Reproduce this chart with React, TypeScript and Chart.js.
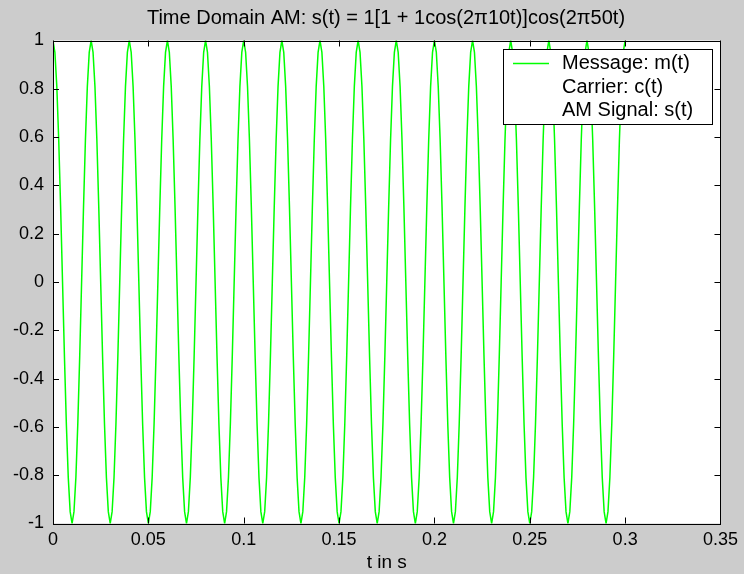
import { useEffect, useRef } from 'react';
import { Chart, registerables } from 'chart.js';

Chart.register(...registerables);

const titleText = 'Time Domain AM: s(t) = 1[1 + 1cos(2\u03c010t)]cos(2\u03c050t)';
const xAxisLabel = 't in s';
const legendLabels = ['Message: m(t)', 'Carrier: c(t)', 'AM Signal: s(t)'];
const xTicks = [0, 0.05, 0.1, 0.15, 0.2, 0.25, 0.3, 0.35];
const yTicks = [-1, -0.8, -0.6, -0.4, -0.2, 0, 0.2, 0.4, 0.6, 0.8, 1];
const sampleStart = 0;
const sampleStep = 0.001;
// samples of the plotted signal (one row per 0.02 s)
const signalValues = [
  1, 0.951, 0.809, 0.588, 0.309, 0, -0.309, -0.588, -0.809, -0.951, -1, -0.951, -0.809, -0.588, -0.309, 0, 0.309, 0.588, 0.809, 0.951,
  1, 0.951, 0.809, 0.588, 0.309, 0, -0.309, -0.588, -0.809, -0.951, -1, -0.951, -0.809, -0.588, -0.309, 0, 0.309, 0.588, 0.809, 0.951,
  1, 0.951, 0.809, 0.588, 0.309, 0, -0.309, -0.588, -0.809, -0.951, -1, -0.951, -0.809, -0.588, -0.309, 0, 0.309, 0.588, 0.809, 0.951,
  1, 0.951, 0.809, 0.588, 0.309, 0, -0.309, -0.588, -0.809, -0.951, -1, -0.951, -0.809, -0.588, -0.309, 0, 0.309, 0.588, 0.809, 0.951,
  1, 0.951, 0.809, 0.588, 0.309, 0, -0.309, -0.588, -0.809, -0.951, -1, -0.951, -0.809, -0.588, -0.309, 0, 0.309, 0.588, 0.809, 0.951,
  1, 0.951, 0.809, 0.588, 0.309, 0, -0.309, -0.588, -0.809, -0.951, -1, -0.951, -0.809, -0.588, -0.309, 0, 0.309, 0.588, 0.809, 0.951,
  1, 0.951, 0.809, 0.588, 0.309, 0, -0.309, -0.588, -0.809, -0.951, -1, -0.951, -0.809, -0.588, -0.309, 0, 0.309, 0.588, 0.809, 0.951,
  1, 0.951, 0.809, 0.588, 0.309, 0, -0.309, -0.588, -0.809, -0.951, -1, -0.951, -0.809, -0.588, -0.309, 0, 0.309, 0.588, 0.809, 0.951,
  1, 0.951, 0.809, 0.588, 0.309, 0, -0.309, -0.588, -0.809, -0.951, -1, -0.951, -0.809, -0.588, -0.309, 0, 0.309, 0.588, 0.809, 0.951,
  1, 0.951, 0.809, 0.588, 0.309, 0, -0.309, -0.588, -0.809, -0.951, -1, -0.951, -0.809, -0.588, -0.309, 0, 0.309, 0.588, 0.809, 0.951,
  1, 0.951, 0.809, 0.588, 0.309, 0, -0.309, -0.588, -0.809, -0.951, -1, -0.951, -0.809, -0.588, -0.309, 0, 0.309, 0.588, 0.809, 0.951,
  1, 0.951, 0.809, 0.588, 0.309, 0, -0.309, -0.588, -0.809, -0.951, -1, -0.951, -0.809, -0.588, -0.309, 0, 0.309, 0.588, 0.809, 0.951,
  1, 0.951, 0.809, 0.588, 0.309, 0, -0.309, -0.588, -0.809, -0.951, -1, -0.951, -0.809, -0.588, -0.309, 0, 0.309, 0.588, 0.809, 0.951,
  1, 0.951, 0.809, 0.588, 0.309, 0, -0.309, -0.588, -0.809, -0.951, -1, -0.951, -0.809, -0.588, -0.309, 0, 0.309, 0.588, 0.809, 0.951,
  1, 0.951, 0.809, 0.588, 0.309, 0, -0.309, -0.588, -0.809, -0.951, -1, -0.951, -0.809, -0.588, -0.309, 0, 0.309, 0.588, 0.809, 0.951,
  1,
];

const FONT = '"Liberation Sans", Arial, Helvetica, sans-serif';
const FIG_BG = '#cccccc';
const LINE_COLOR = '#00ff00';

const fmt = (v: number) => String(parseFloat(Number(v).toFixed(2)));

const matlabPlugin = {
  id: 'matlabStyle',
  beforeDraw(chart: any) {
    const { ctx, width, height, chartArea: a } = chart;
    ctx.save();
    ctx.fillStyle = FIG_BG;
    ctx.fillRect(0, 0, width, height);
    ctx.fillStyle = '#ffffff';
    ctx.fillRect(a.left, a.top, a.right - a.left, a.bottom - a.top);
    ctx.restore();
  },
  afterDatasetsDraw(chart: any) {
    const { ctx, chartArea: a, scales } = chart;
    const tl = 6;
    ctx.save();
    ctx.strokeStyle = '#000000';
    ctx.lineWidth = 1;
    ctx.beginPath();
    for (const v of xTicks) {
      const px = Math.round(scales.x.getPixelForValue(v)) + 0.5;
      ctx.moveTo(px, a.bottom);
      ctx.lineTo(px, a.bottom - tl);
      ctx.moveTo(px, a.top);
      ctx.lineTo(px, a.top + tl);
    }
    for (const v of yTicks) {
      const py = Math.round(scales.y.getPixelForValue(v)) + 0.5;
      ctx.moveTo(a.left, py);
      ctx.lineTo(a.left + tl, py);
      ctx.moveTo(a.right, py);
      ctx.lineTo(a.right - tl, py);
    }
    ctx.stroke();
    ctx.strokeRect(Math.round(a.left) + 0.5, Math.round(a.top) + 0.5, Math.round(a.right - a.left), Math.round(a.bottom - a.top));

    // legend box
    const lx = 503.5, ly = 49.5, lw = 209, lh = 75;
    ctx.fillStyle = '#ffffff';
    ctx.fillRect(lx, ly, lw, lh);
    ctx.strokeRect(lx, ly, lw, lh);
    ctx.strokeStyle = LINE_COLOR;
    ctx.lineWidth = 1.5;
    ctx.beginPath();
    ctx.moveTo(513, 63.5);
    ctx.lineTo(549, 63.5);
    ctx.stroke();
    ctx.fillStyle = '#000000';
    ctx.font = `20px ${FONT}`;
    ctx.textAlign = 'left';
    ctx.textBaseline = 'middle';
    const rows = [63, 87, 110];
    legendLabels.forEach((t, i) => ctx.fillText(t, 562, rows[i]));

    // title
    ctx.textAlign = 'center';
    ctx.font = `20px ${FONT}`;
    ctx.fillText(titleText, 386, 18);
    ctx.restore();
  },
};

export default function App() {
  const ref = useRef<HTMLCanvasElement | null>(null);
  useEffect(() => {
    document.body.style.margin = '0';
    const canvas = ref.current;
    if (!canvas) return;
    const points = signalValues.map((y, i) => ({ x: sampleStart + i * sampleStep, y }));
    const chart = new Chart(canvas, {
      type: 'line',
      data: {
        datasets: [
          {
            label: legendLabels[0],
            data: points,
            borderColor: LINE_COLOR,
            borderWidth: 1.5,
            pointRadius: 0,
            tension: 0,
            fill: false,
          },
        ],
      },
      options: {
        responsive: false,
        animation: false,
        events: [],
        layout: { padding: { top: 40.5, right: 21.5, left: 0, bottom: 0 } },
        plugins: {
          legend: { display: false },
          title: { display: false },
          tooltip: { enabled: false },
        },
        scales: {
          x: {
            type: 'linear',
            min: 0,
            max: 0.35,
            afterBuildTicks: (s: any) => {
              s.ticks = xTicks.map((v) => ({ value: v }));
            },
            afterFit: (s: any) => {
              s.height = 50.5;
            },
            ticks: {
              color: '#000000',
              font: { family: FONT, size: 18 },
              padding: 6,
              maxRotation: 0,
              autoSkip: false,
              callback: (v: any) => fmt(v),
            },
            grid: { display: false, drawTicks: false },
            border: { display: false },
            title: {
              display: true,
              text: xAxisLabel,
              color: '#000000',
              font: { family: FONT, size: 19 },
              padding: { top: 0, bottom: 0 },
            },
          },
          y: {
            type: 'linear',
            min: -1,
            max: 1,
            afterBuildTicks: (s: any) => {
              s.ticks = yTicks.map((v) => ({ value: v }));
            },
            afterFit: (s: any) => {
              s.width = 53;
            },
            ticks: {
              color: '#000000',
              font: { family: FONT, size: 18 },
              padding: 9,
              autoSkip: false,
              callback: (v: any) => fmt(v),
            },
            grid: { display: false, drawTicks: false },
            border: { display: false },
          },
        },
      },
      plugins: [matlabPlugin],
    });
    return () => chart.destroy();
  }, []);
  return <canvas ref={ref} width={744} height={574} style={{ display: 'block' }} />;
}
